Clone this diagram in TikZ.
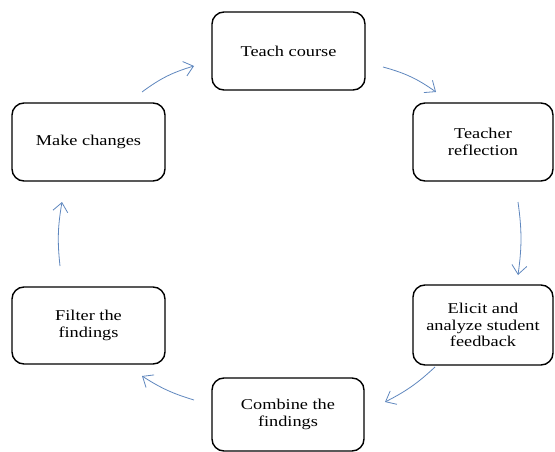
\documentclass[tikz,border=0pt]{standalone}
\usepackage{fontspec}
\setmainfont{Liberation Serif}[FakeStretch=1.22]
\usetikzlibrary{arrows.meta}
\definecolor{arrowblue}{RGB}{95,135,190}
\tikzset{
  stepbox/.style={draw=black, line width=1.4pt, rounded corners=12pt, align=center,
    inner sep=2pt, font=\fontsize{15}{16.5}\selectfont},
  flow/.style={draw=arrowblue, line width=0.8pt, -{Straight Barb[length=9pt,width=15pt,line width=0.8pt]}}
}
\begin{document}
\begin{tikzpicture}[x=1pt,y=-1pt]
\useasboundingbox (0,0) rectangle (555,452);
\node[stepbox, minimum width=153pt, minimum height=78pt] (teach) at (288.5,51) {Teach course};
\node[stepbox, minimum width=140pt, minimum height=78pt] (refl) at (483,142) {Teacher\\reflection};
\node[stepbox, minimum width=140pt, minimum height=80pt] (elicit) at (483,325) {Elicit and\\analyze student\\feedback};
\node[stepbox, minimum width=152pt, minimum height=73pt] (combine) at (288,414.5) {Combine the\\findings};
\node[stepbox, minimum width=153pt, minimum height=77pt] (filter) at (88.5,325.5) {Filter the\\findings};
\node[stepbox, minimum width=153pt, minimum height=78pt] (make) at (88.5,142) {Make changes};
\coordinate (a1s) at (383,67); \coordinate (a1e) at (436,92);
\coordinate (a2s) at (518,202); \coordinate (a2e) at (518,275);
\coordinate (a3s) at (435,367); \coordinate (a3e) at (385,402);
\coordinate (a4s) at (194,400); \coordinate (a4e) at (142,376);
\coordinate (a5s) at (60,266); \coordinate (a5e) at (62,202);
\coordinate (a6s) at (142,92); \coordinate (a6e) at (194,66);
\draw[flow] (a1s) to[bend left=10] (a1e);
\draw[flow] (a2s) to[bend left=8] (a2e);
\draw[flow] (a3s) to[bend left=8] (a3e);
\draw[flow] (a4s) to[bend left=8] (a4e);
\draw[flow] (a5s) to[bend left=8] (a5e);
\draw[flow] (a6s) to[bend left=10] (a6e);
\end{tikzpicture}
\end{document}
